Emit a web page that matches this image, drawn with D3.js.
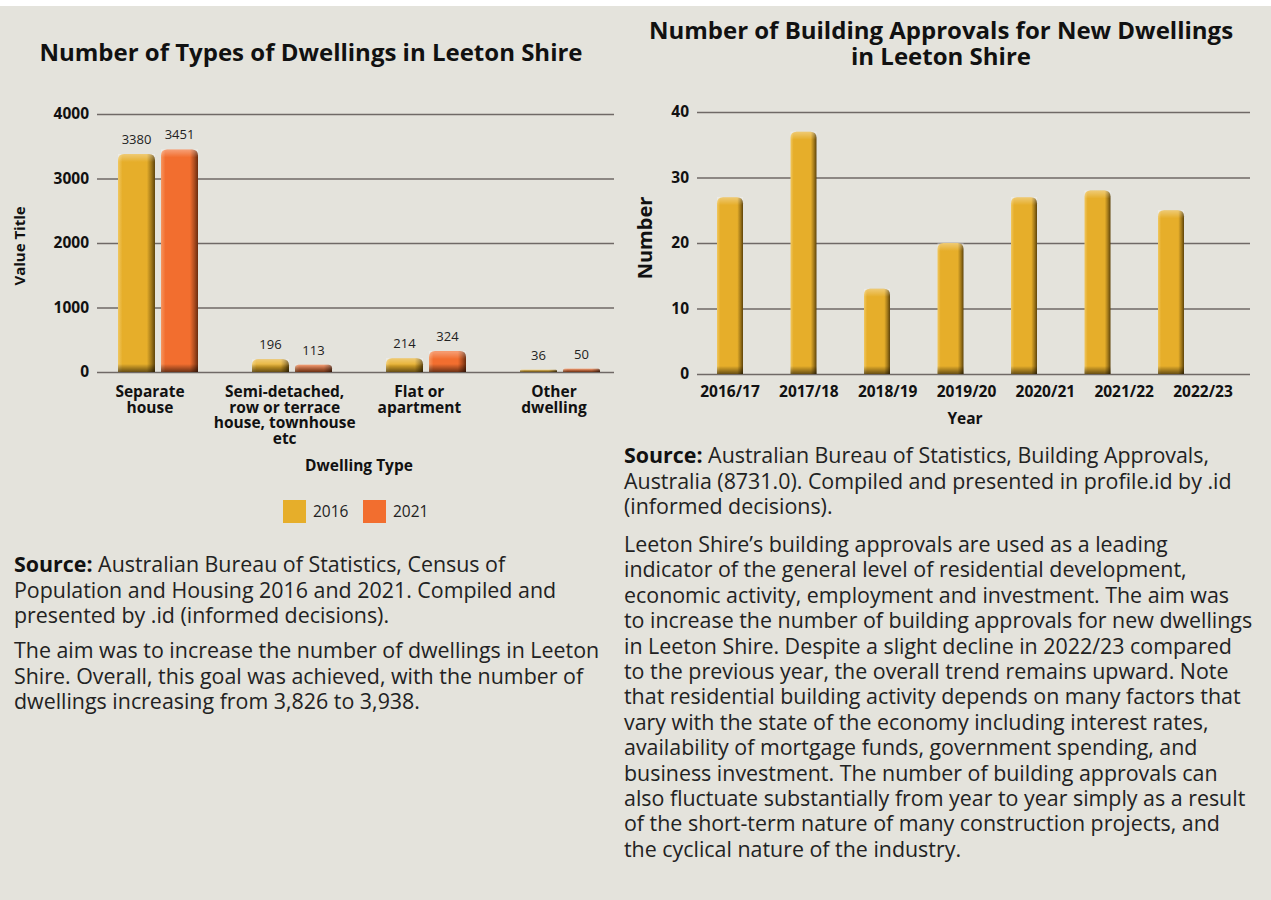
<!DOCTYPE html>
<html>
<head>
<meta charset="utf-8">
<script src="https://cdn.jsdelivr.net/npm/d3@7"></script>
<style>
  html, body { margin: 0; padding: 0; background: #ffffff; }
  svg { display: block; font-family: "Open Sans", "Noto Sans", sans-serif; }
</style>
</head>
<body>
<svg id="chart" width="1271" height="900"></svg>
<script>
// ---- Dwelling types (Census 2016 vs 2021) ----
const dwellingTypes = ["Separate house", "Semi-detached, row or terrace house, townhouse etc", "Flat or apartment", "Other dwelling"];
const dwellingTypeLines = [["Separate", "house"], ["Semi-detached,", "row or terrace", "house, townhouse", "etc"], ["Flat or", "apartment"], ["Other", "dwelling"]];
const censusYears = ["2016", "2021"];
const dwellings2016 = [3380, 196, 214, 36];
const dwellings2021 = [3451, 113, 324, 50];
const dwellingTicks = [0, 1000, 2000, 3000, 4000];

// ---- Building approvals ----
const approvalYears = ["2016/17", "2017/18", "2018/19", "2019/20", "2020/21", "2021/22", "2022/23"];
const approvals = [27, 37, 13, 20, 27, 28, 25];
const approvalTicks = [0, 10, 20, 30, 40];

// ---- Text ----
const leftSourceFirst = "Australian Bureau of Statistics, Census of";
const leftSource = ["Population and Housing 2016 and 2021. Compiled and", "presented by .id (informed decisions)."];
const leftNote = [
  "The aim was to increase the number of dwellings in Leeton",
  "Shire. Overall, this goal was achieved, with the number of",
  "dwellings increasing from 3,826 to 3,938."
];
const rightSourceFirst = "Australian Bureau of Statistics, Building Approvals,";
const rightSource = ["Australia (8731.0). Compiled and presented in profile.id by .id", "(informed decisions)."];
const rightNote = [
  "Leeton Shire\u2019s building approvals are used as a leading",
  "indicator of the general level of residential development,",
  "economic activity, employment and investment. The aim was",
  "to increase the number of building approvals for new dwellings",
  "in Leeton Shire. Despite a slight decline in 2022/23 compared",
  "to the previous year, the overall trend remains upward. Note",
  "that residential building activity depends on many factors that",
  "vary with the state of the economy including interest rates,",
  "availability of mortgage funds, government spending, and",
  "business investment. The number of building approvals can",
  "also fluctuate substantially from year to year simply as a result",
  "of the short-term nature of many construction projects, and",
  "the cyclical nature of the industry."
];

const colors = { "2016": "#e6ae2a", "2021": "#f26e2f" };
const bg = "#e4e3dc";
const gridColor = "#6f6966";
const bodySize = 21.4;
const labelSize = 15.5;

const svg = d3.select("#chart");
svg.append("rect").attr("x", 0).attr("y", 6).attr("width", 1271).attr("height", 894).attr("fill", bg);

// gradients giving the bars their shaded, rounded look
const defs = svg.append("defs");
function barGradient(id, light, base, dark) {
  const g = defs.append("linearGradient").attr("id", id).attr("x1", "0").attr("x2", "1").attr("y1", "0").attr("y2", "0");
  [[0, light], [0.12, base], [0.78, base], [0.9, d3.interpolateRgb(base, dark)(0.5)], [1, dark]]
    .forEach(([o, c]) => g.append("stop").attr("offset", o).attr("stop-color", c));
}
barGradient("gold", "#f0c760", colors["2016"], "#5e4309");
barGradient("orange", "#f6965f", colors["2021"], "#6a2c0e");
const shade = defs.append("linearGradient").attr("id", "base-shade").attr("x1", "0").attr("x2", "0").attr("y1", "0").attr("y2", "1");
shade.append("stop").attr("offset", 0).attr("stop-color", "#000").attr("stop-opacity", 0);
shade.append("stop").attr("offset", 1).attr("stop-color", "#000").attr("stop-opacity", 0.55);
const capG = defs.append("linearGradient").attr("id", "cap").attr("x1", "0").attr("x2", "0").attr("y1", "0").attr("y2", "1");
capG.append("stop").attr("offset", 0).attr("stop-color", "#fff").attr("stop-opacity", 0.35);
capG.append("stop").attr("offset", 1).attr("stop-color", "#fff").attr("stop-opacity", 0);

function drawBar(g, x, y, w, h, fillId) {
  const r = Math.min(6, h / 2);
  g.append("path")
    .attr("d", `M${x},${y + h} V${y + r} Q${x},${y} ${x + r},${y} H${x + w - r} Q${x + w},${y} ${x + w},${y + r} V${y + h} Z`)
    .attr("fill", `url(#${fillId})`);
  g.append("rect").attr("x", x).attr("y", y).attr("width", w).attr("height", Math.min(8, h))
    .attr("fill", "url(#cap)");
  const bh = Math.min(8, h);
  g.append("rect").attr("x", x).attr("y", y + h - bh).attr("width", w).attr("height", bh)
    .attr("fill", "url(#base-shade)");
}

// ================= Left chart =================
{
  const y = d3.scaleLinear().domain([0, 4000]).range([372, 114]);
  const x0 = d3.scaleBand().domain(dwellingTypes).range([91, 627]);
  const x1 = d3.scaleBand().domain(censusYears).range([-40, 40]).paddingInner(0.14);
  const xLabel = d3.scalePoint().domain(dwellingTypes).range([150, 554]);
  const g = svg.append("g");

  g.append("text").attr("x", 311).attr("y", 61).attr("text-anchor", "middle")
    .attr("font-size", 24).attr("font-weight", 700).attr("fill", "#111")
    .text("Number of Types of Dwellings in Leeton Shire");

  // grid lines and y ticks
  const yAxis = d3.axisLeft(y).tickValues(dwellingTicks).tickSize(0).tickFormat(d3.format("d"));
  const ya = g.append("g").attr("transform", "translate(614,0)").call(yAxis);
  ya.select(".domain").remove();
  ya.selectAll(".tick line").attr("x2", -517).attr("x1", 0).attr("stroke", gridColor).attr("stroke-width", 1.6);
  ya.selectAll(".tick text").attr("x", -525).attr("font-size", labelSize).attr("font-weight", 700)
    .attr("fill", "#111").attr("font-family", "Open Sans");

  const series = { "2016": dwellings2016, "2021": dwellings2021 };
  dwellingTypes.forEach((cat, i) => {
    const cx = x0(cat) + x0.bandwidth() / 2;
    censusYears.forEach(yr => {
      const v = series[yr][i];
      const bx = cx + x1(yr);
      drawBar(g, bx, y(v), x1.bandwidth(), y(0) - y(v), yr === "2016" ? "gold" : "orange");
      g.append("text").attr("x", bx + x1.bandwidth() / 2).attr("y", y(v) - 10)
        .attr("text-anchor", "middle").attr("font-size", 13).attr("fill", "#222").text(v);
    });
  });

  // category labels
  dwellingTypes.forEach((cat, i) => {
    const t = g.append("text").attr("x", xLabel(cat)).attr("y", 397).attr("text-anchor", "middle")
      .attr("font-size", labelSize).attr("font-weight", 700).attr("fill", "#111");
    dwellingTypeLines[i].forEach((ln, j) => t.append("tspan").attr("x", xLabel(cat)).attr("dy", j ? 15.5 : 0).text(ln));
  });

  g.append("text").attr("x", 359).attr("y", 471).attr("text-anchor", "middle")
    .attr("font-size", labelSize).attr("font-weight", 700).attr("fill", "#111").text("Dwelling Type");
  g.append("text").attr("transform", "translate(25,246) rotate(-90)").attr("text-anchor", "middle")
    .attr("font-size", 15).attr("font-weight", 700).attr("fill", "#111").text("Value Title");

  // legend
  const leg = g.append("g");
  censusYears.forEach((yr, i) => {
    const lx = 283 + i * 80;
    leg.append("rect").attr("x", lx).attr("y", 500).attr("width", 23).attr("height", 23).attr("fill", colors[yr]);
    leg.append("text").attr("x", lx + 30).attr("y", 517).attr("font-size", labelSize).attr("fill", "#222").text(yr);
  });

  // source and note
  const s = g.append("text").attr("x", 14).attr("y", 572).attr("font-size", bodySize).attr("fill", "#222");
  const l1 = s.append("tspan").attr("x", 14);
  l1.append("tspan").attr("font-weight", 700).attr("fill", "#111").text("Source:");
  l1.append("tspan").text(" " + leftSourceFirst);
  leftSource.forEach(ln => s.append("tspan").attr("x", 14).attr("dy", 25.5).text(ln));
  const n = g.append("text").attr("x", 14).attr("y", 658).attr("font-size", bodySize).attr("fill", "#222");
  leftNote.forEach((ln, j) => n.append("tspan").attr("x", 14).attr("dy", j ? 25.5 : 0).text(ln));
}

// ================= Right chart =================
{
  const y = d3.scaleLinear().domain([0, 40]).range([374, 112]);
  const x = d3.scaleBand().domain(approvalYears).range([693.25, 1207.75]).paddingInner(0.64).paddingOuter(0.32);
  const xLabel = d3.scalePoint().domain(approvalYears).range([730, 1203]);
  const g = svg.append("g");

  const title = g.append("text").attr("x", 941).attr("y", 39).attr("text-anchor", "middle")
    .attr("font-size", 24).attr("font-weight", 700).attr("fill", "#111");
  title.append("tspan").attr("x", 941).text("Number of Building Approvals for New Dwellings");
  title.append("tspan").attr("x", 941).attr("dy", 26).text("in Leeton Shire");

  const yAxis = d3.axisLeft(y).tickValues(approvalTicks).tickSize(0).tickFormat(d3.format("d"));
  const ya = g.append("g").attr("transform", "translate(1250,0)").call(yAxis);
  ya.select(".domain").remove();
  ya.selectAll(".tick line").attr("x1", 0).attr("x2", -553).attr("stroke", gridColor).attr("stroke-width", 1.6);
  ya.selectAll(".tick text").attr("x", -561).attr("font-size", labelSize).attr("font-weight", 700)
    .attr("fill", "#111").attr("font-family", "Open Sans");

  const bw = 26;
  approvalYears.forEach((yr, i) => {
    const cx = x(yr) + x.bandwidth() / 2;
    const v = approvals[i];
    drawBar(g, cx - bw / 2, y(v), bw, y(0) - y(v), "gold");
  });

  approvalYears.forEach(yr => {
    g.append("text").attr("x", xLabel(yr)).attr("y", 397).attr("text-anchor", "middle")
      .attr("font-size", labelSize).attr("font-weight", 700).attr("fill", "#111").text(yr);
  });

  g.append("text").attr("x", 965).attr("y", 424).attr("text-anchor", "middle")
    .attr("font-size", labelSize).attr("font-weight", 700).attr("fill", "#111").text("Year");
  g.append("text").attr("transform", "translate(652,238) rotate(-90)").attr("text-anchor", "middle")
    .attr("font-size", 20).attr("font-weight", 700).attr("fill", "#111").text("Number");

  const s = g.append("text").attr("x", 624).attr("y", 463).attr("font-size", bodySize).attr("fill", "#222");
  const l1 = s.append("tspan").attr("x", 624);
  l1.append("tspan").attr("font-weight", 700).attr("fill", "#111").text("Source:");
  l1.append("tspan").text(" " + rightSourceFirst);
  rightSource.forEach(ln => s.append("tspan").attr("x", 624).attr("dy", 25.5).text(ln));
  const n = g.append("text").attr("x", 624).attr("y", 552).attr("font-size", bodySize).attr("fill", "#222");
  rightNote.forEach((ln, j) => n.append("tspan").attr("x", 624).attr("dy", j ? 25.4 : 0).text(ln));
}
</script>
</body>
</html>
